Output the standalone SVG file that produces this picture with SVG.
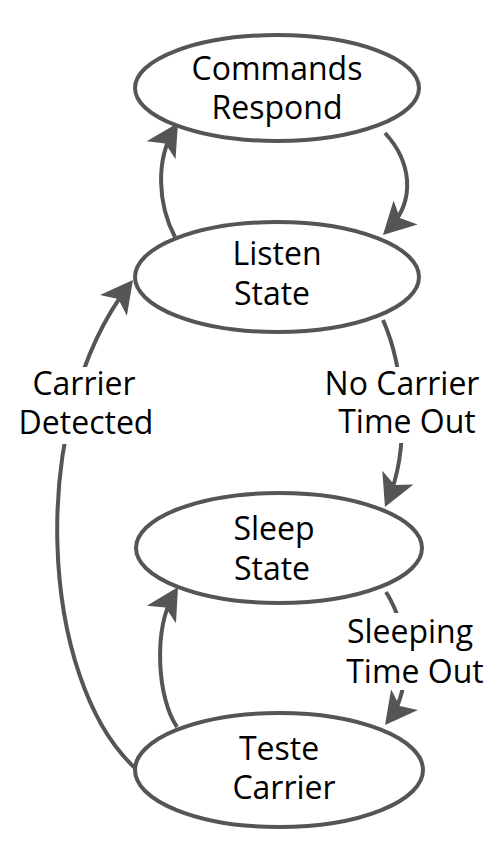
<svg xmlns="http://www.w3.org/2000/svg" width="500" height="850" viewBox="0 0 500 850">
<style>
.node ellipse{fill:#fff;stroke:#555;stroke-width:4}
text{font-family:"Open Sans","Noto Sans","Liberation Sans",sans-serif;font-size:32px;fill:#000;text-anchor:middle}
.edge{fill:none;stroke:#555;stroke-width:4;marker-end:url(#arr)}
.lblbg{fill:#fff}
</style>
<defs>
<marker id="arr" markerUnits="userSpaceOnUse" viewBox="-28 -18 36 36" markerWidth="36" markerHeight="36" refX="0" refY="0" orient="auto">
<path d="M6,0 L-26,-17 L-18,0 L-26,17 Z" fill="#555"/>
</marker>
</defs>
<rect width="500" height="850" fill="#fff"/>
<g id="connectors">
<path class="edge" d="M175,237 C158,205 155,160 174.8,128.1"/>
<path class="edge" d="M385,133 C410,160 418,200 387.2,230.8"/>
<path class="edge" d="M383,320 C405,370 410,450 387.4,501.5"/>
<path class="edge" d="M135,768 C40,680 25,420 129.3,284.7"/>
<path class="edge" d="M177,727 C158,700 152,630 174.9,592.2"/>
<path class="edge" d="M386,592 C410,630 412,690 388.7,720.3"/>
<g id="label-carrier-detected">
<rect class="lblbg" x="18" y="367" width="136" height="77"/>
<text x="84" y="395">Carrier</text>
<text x="86" y="434">Detected</text>
</g>
<g id="label-no-carrier">
<rect class="lblbg" x="322" y="367" width="160" height="76"/>
<text x="402" y="395">No Carrier</text>
<text x="407" y="433">Time Out</text>
</g>
<g id="label-sleeping">
<rect class="lblbg" x="344" y="613" width="142" height="77"/>
<text x="410" y="643">Sleeping</text>
<text x="415" y="683">Time Out</text>
</g>
</g>
<g id="commands" class="node">
<ellipse cx="277" cy="88" rx="142" ry="53"/>
<text x="277" y="80">Commands</text>
<text x="277" y="119">Respond</text>
</g>
<g id="listen" class="node">
<ellipse cx="277" cy="277" rx="142" ry="55"/>
<text x="277" y="265">Listen</text>
<text x="272" y="305">State</text>
</g>
<g id="sleep" class="node">
<ellipse cx="279" cy="548" rx="143" ry="55"/>
<text x="274" y="540">Sleep</text>
<text x="272" y="580">State</text>
</g>
<g id="teste" class="node">
<ellipse cx="279" cy="770" rx="144" ry="57"/>
<text x="279" y="760">Teste</text>
<text x="284" y="799">Carrier</text>
</g>
</svg>
